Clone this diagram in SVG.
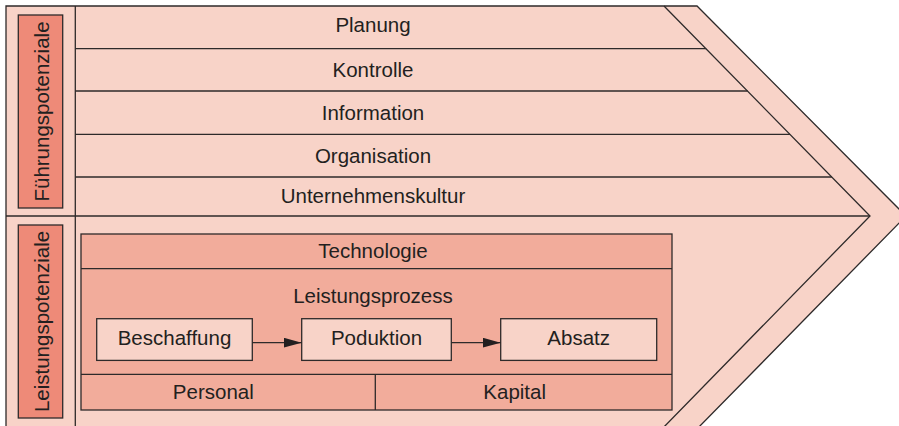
<svg xmlns="http://www.w3.org/2000/svg" width="899" height="426" viewBox="0 0 899 426">
<defs>
<style>
.ln{stroke:#2e2a2a;stroke-width:1.3;fill:none}
.bg{fill:#F8D3C8;stroke:#2e2a2a;stroke-width:1.3}
.mid{fill:#F2AC9B;stroke:#2e2a2a;stroke-width:1.3}
.lab{fill:#EE8A78;stroke:#2e2a2a;stroke-width:1.3}
.box{fill:#F8D3C8;stroke:#2e2a2a;stroke-width:1.3}
text{font-family:"Liberation Sans",Arial,sans-serif;font-size:20.5px;fill:#231f20;text-anchor:middle}
</style>
<marker id="ah" markerWidth="18" markerHeight="10" refX="18" refY="5" orient="auto" markerUnits="userSpaceOnUse">
<path d="M0,0 L18,5 L0,10 Z" fill="#231f20"/>
</marker>
</defs>
<g id="frame">
<polygon class="bg" points="6,6 697,6 906,216 696,430 6,430"/>
<polyline class="ln" points="664,6 870,216 661,430"/>
<line class="ln" x1="75.3" y1="6" x2="75.3" y2="430"/>
<line class="ln" x1="6" y1="216" x2="870" y2="216"/>
</g>
<g id="fuehrung-label">
<rect class="lab" x="18.3" y="15" width="44.4" height="193"/>
<text transform="translate(48.5,111.5) rotate(-90)">Führungspotenziale</text>
</g>
<g id="planung">
<text x="373" y="32">Planung</text>
<line class="ln" x1="75.3" y1="48.7" x2="706.2" y2="48.7"/>
</g>
<g id="kontrolle">
<text x="373" y="77">Kontrolle</text>
<line class="ln" x1="75.3" y1="91" x2="747.6" y2="91"/>
</g>
<g id="information">
<text x="373" y="120">Information</text>
<line class="ln" x1="75.3" y1="134.3" x2="790" y2="134.3"/>
</g>
<g id="organisation">
<text x="373" y="163.3">Organisation</text>
<line class="ln" x1="75.3" y1="177" x2="831.8" y2="177"/>
</g>
<g id="unternehmenskultur">
<text x="373" y="203.3">Unternehmenskultur</text>
</g>
<g id="leistung-label">
<rect class="lab" x="18.3" y="225" width="44.4" height="193"/>
<text transform="translate(48.5,321.5) rotate(-90)">Leistungspotenziale</text>
</g>
<g id="leistungsprozess">
<rect class="mid" x="81" y="234" width="591" height="176"/>
<line class="ln" x1="81" y1="268.7" x2="672" y2="268.7"/>
<line class="ln" x1="81" y1="374.3" x2="672" y2="374.3"/>
<line class="ln" x1="375.3" y1="374.3" x2="375.3" y2="410"/>
<text x="373" y="258.3">Technologie</text>
<text x="373" y="302.7">Leistungsprozess</text>
<text x="213.3" y="399.3">Personal</text>
<text x="514.7" y="399.3">Kapital</text>
</g>
<g id="beschaffung">
<rect class="box" x="96.7" y="318.7" width="155.6" height="41.7"/>
<text x="174.5" y="345.3">Beschaffung</text>
</g>
<g id="poduktion">
<rect class="box" x="301.7" y="318.7" width="149.6" height="41.7"/>
<text x="376.5" y="345.3">Poduktion</text>
</g>
<g id="absatz">
<rect class="box" x="500.7" y="318.7" width="156" height="41.7"/>
<text x="578.7" y="345.3">Absatz</text>
</g>
<g id="connectors">
<line class="ln" x1="252.3" y1="342.7" x2="301.7" y2="342.7" marker-end="url(#ah)"/>
<line class="ln" x1="451.3" y1="342.7" x2="500.7" y2="342.7" marker-end="url(#ah)"/>
</g>
</svg>
